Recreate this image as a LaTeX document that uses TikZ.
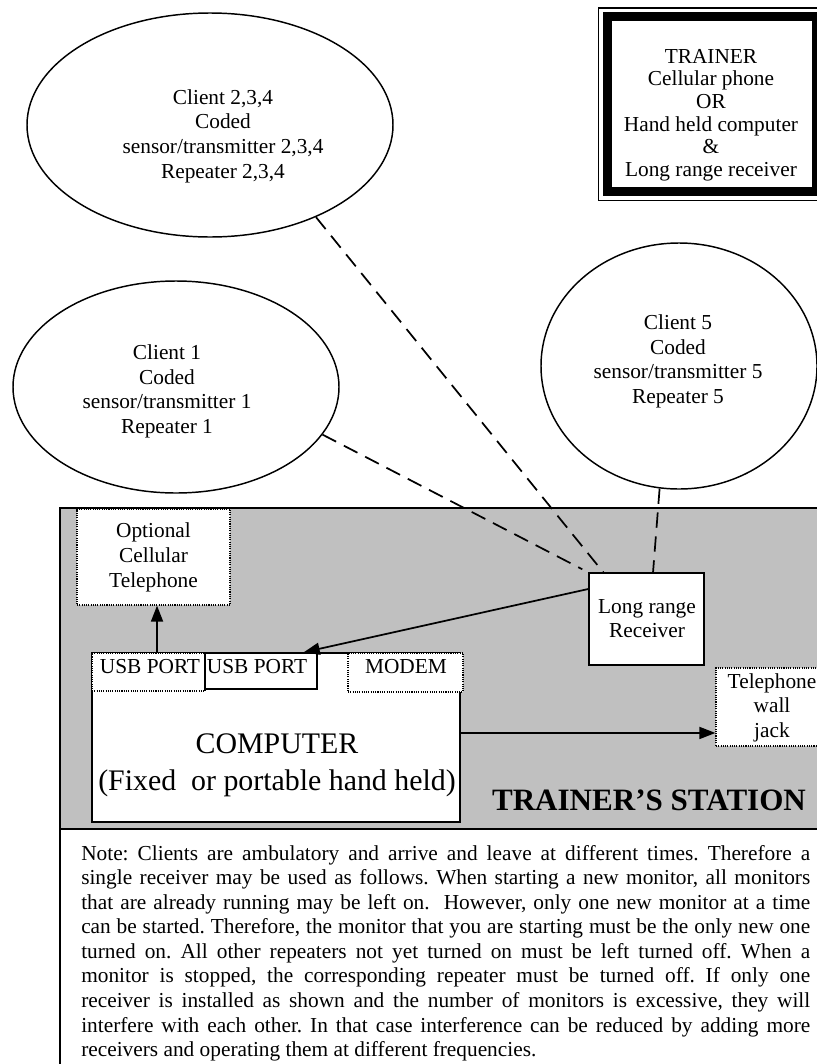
\documentclass[tikz,border=0pt]{standalone}
\usepackage{fontspec}
\setmainfont{Liberation Serif}
\usetikzlibrary{shapes.geometric,arrows.meta}
\definecolor{stationgray}{RGB}{192,192,192}
\begin{document}
\begin{tikzpicture}[x=0.75pt,y=-0.75pt,
  ell/.style={ellipse,draw,line width=1.1pt,inner sep=0pt},
  solidbox/.style={draw,line width=1.1pt,fill=white,inner sep=0pt},
  dotbox/.style={draw,line width=0.9pt,dash pattern=on 0.8pt off 0.9pt,fill=white,inner sep=0pt},
  link/.style={line width=1.3pt,dash pattern=on 11.5pt off 6.5pt},
  arr/.style={line width=1.3pt,-{Triangle[length=12pt,width=9pt]}},
  txt/.style={inner sep=0pt,align=center,font=\fontsize{16}{18.5}\selectfont},
]
\useasboundingbox (0,0) rectangle (817,1064);

% client ellipses
\node[ell,minimum width=274.5pt,minimum height=168pt] (e234) at (210,125) {};
\node[ell,minimum width=244.5pt,minimum height=159pt] (e1) at (176,387) {};
\node[ell,minimum width=207pt,minimum height=184.5pt] (e5) at (679,366) {};
\node[txt] (t234) at (223,136) {Client 2,3,4\\Coded\\sensor/transmitter 2,3,4\\Repeater 2,3,4};
\node[txt] (t1) at (167,391.5) {Client 1\\Coded\\sensor/transmitter 1\\Repeater 1};
\node[txt] (t5) at (678,361.5) {Client 5\\Coded\\sensor/transmitter 5\\Repeater 5};

% trainer box (thin-thick border)
\draw[line width=1pt] (598.5,8) rectangle (830,200.5);
\draw[line width=6.75pt] (607.5,16.5) rectangle (816.5,191.5);
\node[txt,font=\fontsize{16}{17}\selectfont] (trainer) at (711,115)
  {TRAINER\\Cellular phone\\OR\\Hand held computer\\\&\\Long range receiver};

% trainer's station area and note box
\draw[line width=1.3pt,fill=stationgray] (60,508) rectangle (830,829);
\draw[line width=1.3pt,fill=white] (60,829) rectangle (830,1080);

% receiver and dashed radio links
\node[solidbox,minimum width=86.25pt,minimum height=69pt] (rx) at (646.5,619) {};
\draw[link] (e1.-18) -- ([xshift=-4.5pt,yshift=2.25pt]rx.north west);
\draw[link] (e234.-41) -- ([xshift=11.25pt]rx.north west);
\draw[link] (e5.-99) -- ([xshift=4.9pt]rx.north);
\node[txt,font=\fontsize{16}{18}\selectfont] (rxt) at (647,619) {Long range\\Receiver};

% optional cellular telephone
\node[dotbox,minimum width=114.75pt,minimum height=72pt] (cell) at (153.5,557) {};
\node[txt,font=\fontsize{16}{18.75}\selectfont] (cellt) at (153.5,557) {Optional\\Cellular\\Telephone};

% computer and ports
\node[solidbox,minimum width=276pt,minimum height=126.75pt] (comp) at (276,737.5) {};
\node[dotbox,minimum width=84.75pt,minimum height=28.5pt] (usb1) at (148.5,672) {};
\node[solidbox,minimum width=84pt,minimum height=27pt] (usb2) at (261,671) {};
\node[dotbox,minimum width=86.25pt,minimum height=29.25pt] (modem) at (405.5,672.5) {};
\node[anchor=base,inner sep=0pt,font=\fontsize{16}{18}\selectfont] (usb1t) at (150,673) {USB PORT};
\node[anchor=base,inner sep=0pt,font=\fontsize{16}{18}\selectfont] (usb2t) at (257,673) {USB PORT};
\node[anchor=base,inner sep=0pt,font=\fontsize{16}{18}\selectfont] (modemt) at (406,673) {MODEM};
\node[txt,font=\fontsize{22.4}{27.75}\selectfont] (compt) at (277,765.5) {COMPUTER\\(Fixed\ \ or portable hand held)};

% telephone wall jack
\node[dotbox,minimum width=84pt,minimum height=58.5pt] (jack) at (772,707) {};
\node[txt,font=\fontsize{16}{18.4}\selectfont] (jackt) at (772,707.5) {Telephone\\wall\\jack};

% arrows
\draw[arr] ([yshift=22.5pt]rx.west) -- ([xshift=-10.5pt]usb2.north east);
\coordinate (a1) at ([xshift=6.4pt]usb1.north);
\draw[arr] (a1) -- (a1 |- cell.south);
\coordinate (a2) at ([yshift=3.4pt]comp.east);
\draw[arr] (a2) -- (a2 -| jack.west);

% station title
\node[anchor=base,inner sep=0pt,font=\fontsize{23.3}{28}\selectfont\bfseries] (station) at (649,810) {TRAINER’S STATION};

% note
\node[anchor=north west,inner sep=0pt,text width=546.75pt,align=justify,
      font=\fontsize{16}{18.4}\selectfont\frenchspacing] (note) at (81,845)
{Note: Clients are ambulatory and arrive and leave at different times. Therefore a\linebreak
single receiver may be used as follows. When starting a new monitor, all monitors\linebreak
that are already running may be left on.\ \ However, only one new monitor at a time\linebreak
can be started. Therefore, the monitor that you are starting must be the only new one\linebreak
turned on. All other repeaters not yet turned on must be left turned off. When a\linebreak
monitor is stopped, the corresponding repeater must be turned off. If only one\linebreak
receiver is installed as shown and the number of monitors is excessive, they will\linebreak
interfere with each other. In that case interference can be reduced by adding more\linebreak
receivers and operating them at different frequencies.};
\end{tikzpicture}
\end{document}
